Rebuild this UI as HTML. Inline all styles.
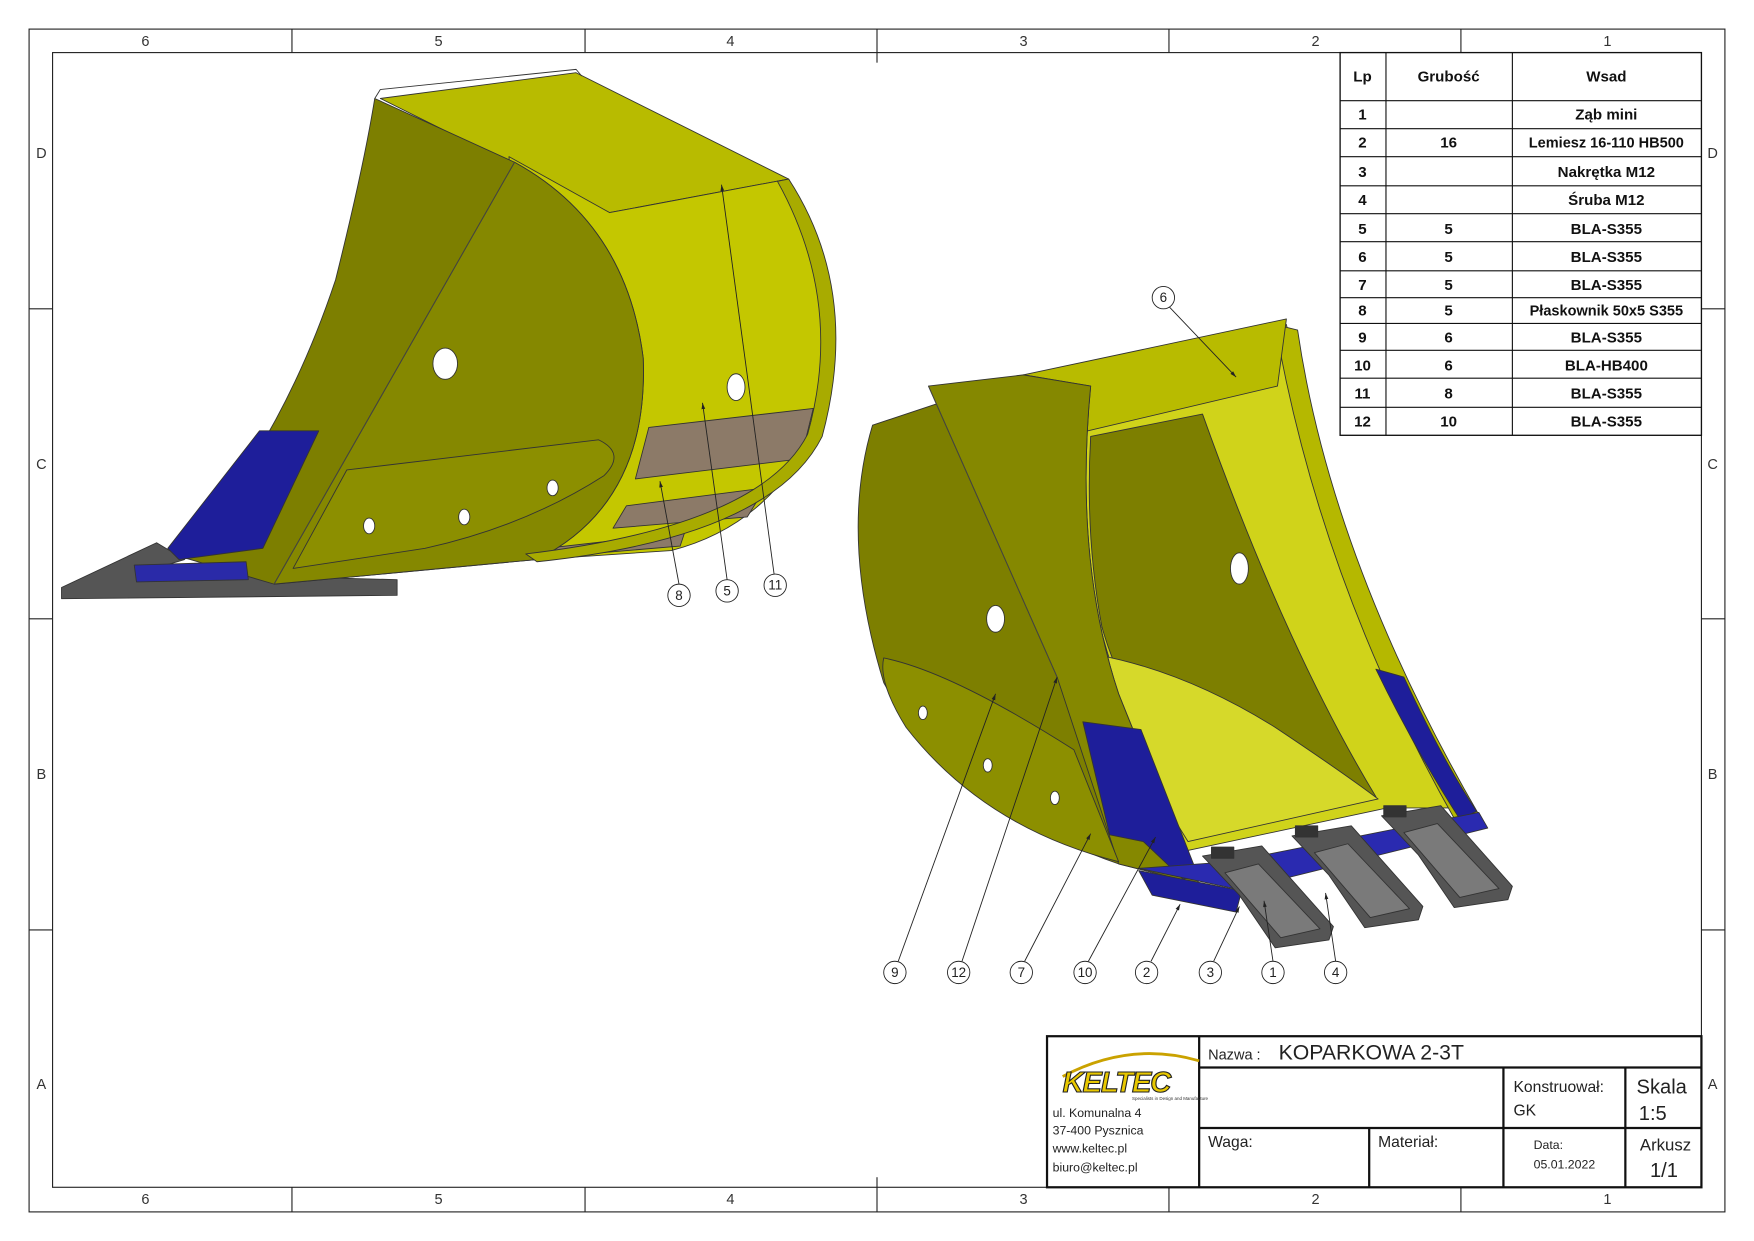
<!DOCTYPE html>
<html><head><meta charset="utf-8"><style>
html,body{margin:0;padding:0;background:#fff}
svg{display:block}
text{font-family:"Liberation Sans",sans-serif}
</style></head><body>
<svg width="1754" height="1241" viewBox="0 0 1568 1109" preserveAspectRatio="none" xmlns="http://www.w3.org/2000/svg">
<defs><marker id="ah" viewBox="0 0 10 10" refX="10" refY="5" markerWidth="7" markerHeight="7" orient="auto"><path d="M0,2 L10,5 L0,8 Z" fill="#222"/></marker></defs>
<rect x="0" y="0" width="1568" height="1109" fill="#fff"/>
<!-- frames -->
<rect x="26" y="26" width="1516" height="1057" fill="none" stroke="#222" stroke-width="1"/>
<rect x="47" y="47" width="1474" height="1014" fill="none" stroke="#222" stroke-width="1"/>
<g stroke="#222" stroke-width="1">
<line x1="261" y1="26" x2="261" y2="47"/><line x1="523" y1="26" x2="523" y2="47"/><line x1="784" y1="26" x2="784" y2="47"/><line x1="1045" y1="26" x2="1045" y2="47"/><line x1="1306" y1="26" x2="1306" y2="47"/>
<line x1="261" y1="1061" x2="261" y2="1083"/><line x1="523" y1="1061" x2="523" y2="1083"/><line x1="784" y1="1061" x2="784" y2="1083"/><line x1="1045" y1="1061" x2="1045" y2="1083"/><line x1="1306" y1="1061" x2="1306" y2="1083"/>
<line x1="26" y1="276" x2="47" y2="276"/><line x1="26" y1="553" x2="47" y2="553"/><line x1="26" y1="831" x2="47" y2="831"/>
<line x1="1521" y1="276" x2="1542" y2="276"/><line x1="1521" y1="553" x2="1542" y2="553"/><line x1="1521" y1="831" x2="1542" y2="831"/>
<line x1="784" y1="47" x2="784" y2="56"/><line x1="784" y1="1052" x2="784" y2="1061"/>
</g>
<g font-size="13" fill="#333" text-anchor="middle">
<text x="130" y="41">6</text><text x="392" y="41">5</text><text x="653" y="41">4</text><text x="915" y="41">3</text><text x="1176" y="41">2</text><text x="1437" y="41">1</text>
<text x="130" y="1076">6</text><text x="392" y="1076">5</text><text x="653" y="1076">4</text><text x="915" y="1076">3</text><text x="1176" y="1076">2</text><text x="1437" y="1076">1</text>
<text x="37" y="141">D</text><text x="37" y="419">C</text><text x="37" y="696">B</text><text x="37" y="973">A</text>
<text x="1531" y="141">D</text><text x="1531" y="419">C</text><text x="1531" y="696">B</text><text x="1531" y="973">A</text>
</g>

<!-- LEFT BUCKET -->
<g stroke="#333" stroke-width="0.8" stroke-linejoin="round">
<path d="M55,525 L140,485 L165,500 L125,512 L355,518 L355,532 L55,535 Z" fill="#555"/>
<path d="M340,88 L515,65 L705,160 L545,190 Z" fill="#b8bb00"/>
<path d="M455,140 L545,190 L705,160 Q760,260 725,390 Q685,470 600,492 L480,500 Z" fill="#c4c700"/>
<path d="M580,382 L727,365 L716,410 L568,428 Z" fill="#8c7a68"/>
<path d="M560,452 L684,436 L668,462 L548,472 Z" fill="#8c7a68"/>
<path d="M470,492 L612,476 L608,488 L465,500 Z" fill="#8c7a68"/>
<path d="M335,88 L460,145 Q560,200 575,320 Q580,450 480,500 L245,522 L160,497 Q250,400 300,250 Q325,150 335,88 Z" fill="#7d7f00"/>
<path d="M460,145 Q560,200 575,320 Q580,450 480,500 L245,522 Z" fill="#858800"/>
<path d="M310,420 L535,393 Q560,405 540,425 Q470,470 380,490 L262,508 Z" fill="#8c8f00"/>
<path d="M705,160 Q770,260 735,390 Q690,480 480,502 L470,495 Q680,470 722,388 Q755,270 695,162 Z" fill="#a8ab00"/>
<path d="M150,490 L232,385 L285,385 L235,490 L160,500 Z" fill="#1e1e9a"/>
<path d="M120,505 L220,502 L222,518 L122,520 Z" fill="#2a2aa8"/>
<path d="M335,88 L340,80 L515,62 L520,68" fill="none"/>
<ellipse cx="398" cy="325" rx="11" ry="14" fill="#fff"/>
<ellipse cx="658" cy="346" rx="8" ry="12" fill="#fff"/>
<ellipse cx="330" cy="470" rx="5" ry="7" fill="#fff"/>
<ellipse cx="415" cy="462" rx="5" ry="7" fill="#fff"/>
<ellipse cx="494" cy="436" rx="5" ry="7" fill="#fff"/>
<line x1="460" y1="145" x2="245" y2="522" stroke="#444"/>
</g>

<!-- RIGHT BUCKET -->
<g stroke="#333" stroke-width="0.8" stroke-linejoin="round">
<path d="M930,345 L1150,290 Q1190,490 1310,722 L1240,722 L1062,760 Q980,600 962,450 Z" fill="#d0d31a"/>
<path d="M975,390 L1075,370 Q1150,580 1230,712 L1100,740 Q1010,650 985,560 Q970,480 975,390 Z" fill="#7d7f00"/>
<path d="M980,585 Q1060,600 1140,650 Q1200,690 1232,714 L1062,752 Q1010,670 980,585 Z" fill="#d6d92a"/>
<path d="M1140,290 L1160,295 Q1190,500 1322,728 L1302,735 Q1180,520 1140,290 Z" fill="#b5b800"/>
<path d="M915,335 L1150,285 L1142,345 L930,395 Z" fill="#b8bb00"/>
<path d="M780,380 L915,335 L975,345 Q960,500 1000,620 Q1040,720 1072,790 L1000,772 Q850,720 790,610 Q750,480 780,380 Z" fill="#7d7f00"/>
<path d="M830,345 L915,335 L975,345 Q960,500 1000,620 Q1040,720 1072,790 L1000,772 L945,605 Z" fill="#858800"/>
<path d="M790,588 Q850,600 960,670 L1000,770 Q880,740 810,650 Q785,610 790,588 Z" fill="#8c8f00"/>
<path d="M1230,598 L1255,605 Q1290,680 1320,725 L1305,732 Q1265,670 1230,598 Z" fill="#1e1e9a"/>
<path d="M968,645 L1020,652 L1070,780 L1058,786 L1022,752 L992,746 Z" fill="#1e1e9a"/>
<path d="M1018,776 L1108,795 L1330,740 L1322,726 L1100,770 Z" fill="#2a2ab0"/>
<path d="M1018,778 L1030,800 L1105,815 L1110,796 Z" fill="#1e1e9a"/>
<g fill="#555">
<path d="M1075,765 L1128,756 L1192,828 L1188,840 L1140,847 L1108,800 Z"/>
<path d="M1155,747 L1208,738 L1272,810 L1268,822 L1220,829 L1188,782 Z"/>
<path d="M1235,729 L1288,720 L1352,792 L1348,804 L1300,811 L1268,764 Z"/>
</g>
<g fill="#7a7a7a">
<path d="M1095,780 L1125,772 L1180,830 L1145,838 Z"/>
<path d="M1175,762 L1205,754 L1260,812 L1225,820 Z"/>
<path d="M1255,744 L1285,736 L1340,794 L1305,802 Z"/>
</g>
<g fill="#333"><rect x="1083" y="757" width="20" height="10"/><rect x="1158" y="738" width="20" height="10"/><rect x="1237" y="720" width="20" height="10"/></g>
<ellipse cx="890" cy="553" rx="8" ry="12" fill="#fff"/>
<ellipse cx="1108" cy="508" rx="8" ry="14" fill="#fff"/>
<ellipse cx="825" cy="637" rx="4" ry="6" fill="#fff"/>
<ellipse cx="883" cy="684" rx="4" ry="6" fill="#fff"/>
<ellipse cx="943" cy="713" rx="4" ry="6" fill="#fff"/>
<line x1="830" y1="345" x2="945" y2="605" stroke="#444"/>
</g>

<!-- balloons & leaders -->
<g stroke="#222" stroke-width="0.8" fill="none" marker-end="url(#ah)">
<line x1="1045" y1="274" x2="1105" y2="337"/>
<line x1="607" y1="522" x2="590" y2="430"/>
<line x1="650" y1="518" x2="628" y2="360"/>
<line x1="692" y1="513" x2="645" y2="165"/>
<line x1="803" y1="859" x2="890" y2="620"/>
<line x1="860" y1="859" x2="945" y2="605"/>
<line x1="916" y1="859" x2="975" y2="745"/>
<line x1="973" y1="859" x2="1033" y2="748"/>
<line x1="1029" y1="859" x2="1055" y2="808"/>
<line x1="1085" y1="859" x2="1108" y2="810"/>
<line x1="1138" y1="859" x2="1130" y2="805"/>
<line x1="1194" y1="859" x2="1185" y2="798"/>
</g>
<g stroke="#222" stroke-width="0.8" fill="#fff">
<circle cx="1040" cy="266" r="10"/><circle cx="607" cy="532" r="10"/><circle cx="650" cy="528" r="10"/><circle cx="693" cy="523" r="10"/>
<circle cx="800" cy="869" r="10"/><circle cx="857" cy="869" r="10"/><circle cx="913" cy="869" r="10"/><circle cx="970" cy="869" r="10"/>
<circle cx="1025" cy="869" r="10"/><circle cx="1082" cy="869" r="10"/><circle cx="1138" cy="869" r="10"/><circle cx="1194" cy="869" r="10"/>
</g>
<g font-size="12" fill="#222" text-anchor="middle">
<text x="1040" y="270">6</text><text x="607" y="536">8</text><text x="650" y="532">5</text><text x="693" y="527">11</text>
<text x="800" y="873">9</text><text x="857" y="873">12</text><text x="913" y="873">7</text><text x="970" y="873">10</text>
<text x="1025" y="873">2</text><text x="1082" y="873">3</text><text x="1138" y="873">1</text><text x="1194" y="873">4</text>
</g>

<!-- parts table -->
<rect x="1198" y="47" width="323" height="342" fill="#fff" stroke="#111" stroke-width="1.2"/>
<g stroke="#111" stroke-width="1">
<line x1="1239" y1="47" x2="1239" y2="389"/><line x1="1352" y1="47" x2="1352" y2="389"/>
<line x1="1198" y1="90" x2="1521" y2="90"/><line x1="1198" y1="115" x2="1521" y2="115"/><line x1="1198" y1="140" x2="1521" y2="140"/><line x1="1198" y1="166" x2="1521" y2="166"/><line x1="1198" y1="191" x2="1521" y2="191"/><line x1="1198" y1="216" x2="1521" y2="216"/><line x1="1198" y1="242" x2="1521" y2="242"/><line x1="1198" y1="266" x2="1521" y2="266"/><line x1="1198" y1="289" x2="1521" y2="289"/><line x1="1198" y1="313" x2="1521" y2="313"/><line x1="1198" y1="338" x2="1521" y2="338"/><line x1="1198" y1="364" x2="1521" y2="364"/>
</g>
<g font-size="13.5" font-weight="bold" fill="#111" text-anchor="middle">
<text x="1218" y="73">Lp</text><text x="1295" y="73">Grubość</text><text x="1436" y="73">Wsad</text>
<text x="1218" y="107">1</text><text x="1436" y="107">Ząb mini</text>
<text x="1218" y="132">2</text><text x="1295" y="132">16</text><text x="1436" y="132" font-size="13">Lemiesz 16-110 HB500</text>
<text x="1218" y="158">3</text><text x="1436" y="158">Nakrętka M12</text>
<text x="1218" y="183">4</text><text x="1436" y="183">Śruba M12</text>
<text x="1218" y="209">5</text><text x="1295" y="209">5</text><text x="1436" y="209">BLA-S355</text>
<text x="1218" y="234">6</text><text x="1295" y="234">5</text><text x="1436" y="234">BLA-S355</text>
<text x="1218" y="259">7</text><text x="1295" y="259">5</text><text x="1436" y="259">BLA-S355</text>
<text x="1218" y="282">8</text><text x="1295" y="282">5</text><text x="1436" y="282" font-size="13">Płaskownik 50x5 S355</text>
<text x="1218" y="306">9</text><text x="1295" y="306">6</text><text x="1436" y="306">BLA-S355</text>
<text x="1218" y="331">10</text><text x="1295" y="331">6</text><text x="1436" y="331">BLA-HB400</text>
<text x="1218" y="356">11</text><text x="1295" y="356">8</text><text x="1436" y="356">BLA-S355</text>
<text x="1218" y="381">12</text><text x="1295" y="381">10</text><text x="1436" y="381">BLA-S355</text>
</g>

<!-- title block -->
<rect x="936" y="926" width="585" height="135" fill="#fff" stroke="#111" stroke-width="2"/>
<g stroke="#111" stroke-width="2">
<line x1="1072" y1="926" x2="1072" y2="1061"/>
<line x1="1072" y1="954" x2="1521" y2="954"/>
<line x1="1072" y1="1008" x2="1521" y2="1008"/>
<line x1="1344" y1="954" x2="1344" y2="1061"/>
<line x1="1453" y1="954" x2="1453" y2="1061"/>
<line x1="1224" y1="1008" x2="1224" y2="1061"/>
</g>
<g fill="#222">
<text x="1080" y="947" font-size="13">Nazwa :</text>
<text x="1143" y="947" font-size="19">KOPARKOWA 2-3T</text>
<text x="1353" y="976" font-size="14">Konstruował:</text>
<text x="1353" y="997" font-size="14">GK</text>
<text x="1463" y="977" font-size="18">Skala</text>
<text x="1465" y="1001" font-size="18">1:5</text>
<text x="1080" y="1025" font-size="14">Waga:</text>
<text x="1232" y="1025" font-size="14">Materiał:</text>
<text x="1371" y="1027" font-size="11">Data:</text>
<text x="1371" y="1044" font-size="11">05.01.2022</text>
<text x="1466" y="1028" font-size="15">Arkusz</text>
<text x="1475" y="1052" font-size="18">1/1</text>
<text x="941" y="998" font-size="11">ul. Komunalna 4</text>
<text x="941" y="1014" font-size="11">37-400 Pysznica</text>
<text x="941" y="1030" font-size="11">www.keltec.pl</text>
<text x="941" y="1047" font-size="11">biuro@keltec.pl</text>
</g>
<path d="M950,962 Q1010,930 1072,948" fill="none" stroke="#caa200" stroke-width="2.5"/>
<text x="950" y="976" font-size="26" font-weight="bold" font-style="italic" fill="#e8c800" stroke="#222" stroke-width="1" letter-spacing="-1">KELTEC</text>
<text x="1012" y="983" font-size="4" fill="#333">Specialists in Design and Manufacture</text>
</svg>
</body></html>
